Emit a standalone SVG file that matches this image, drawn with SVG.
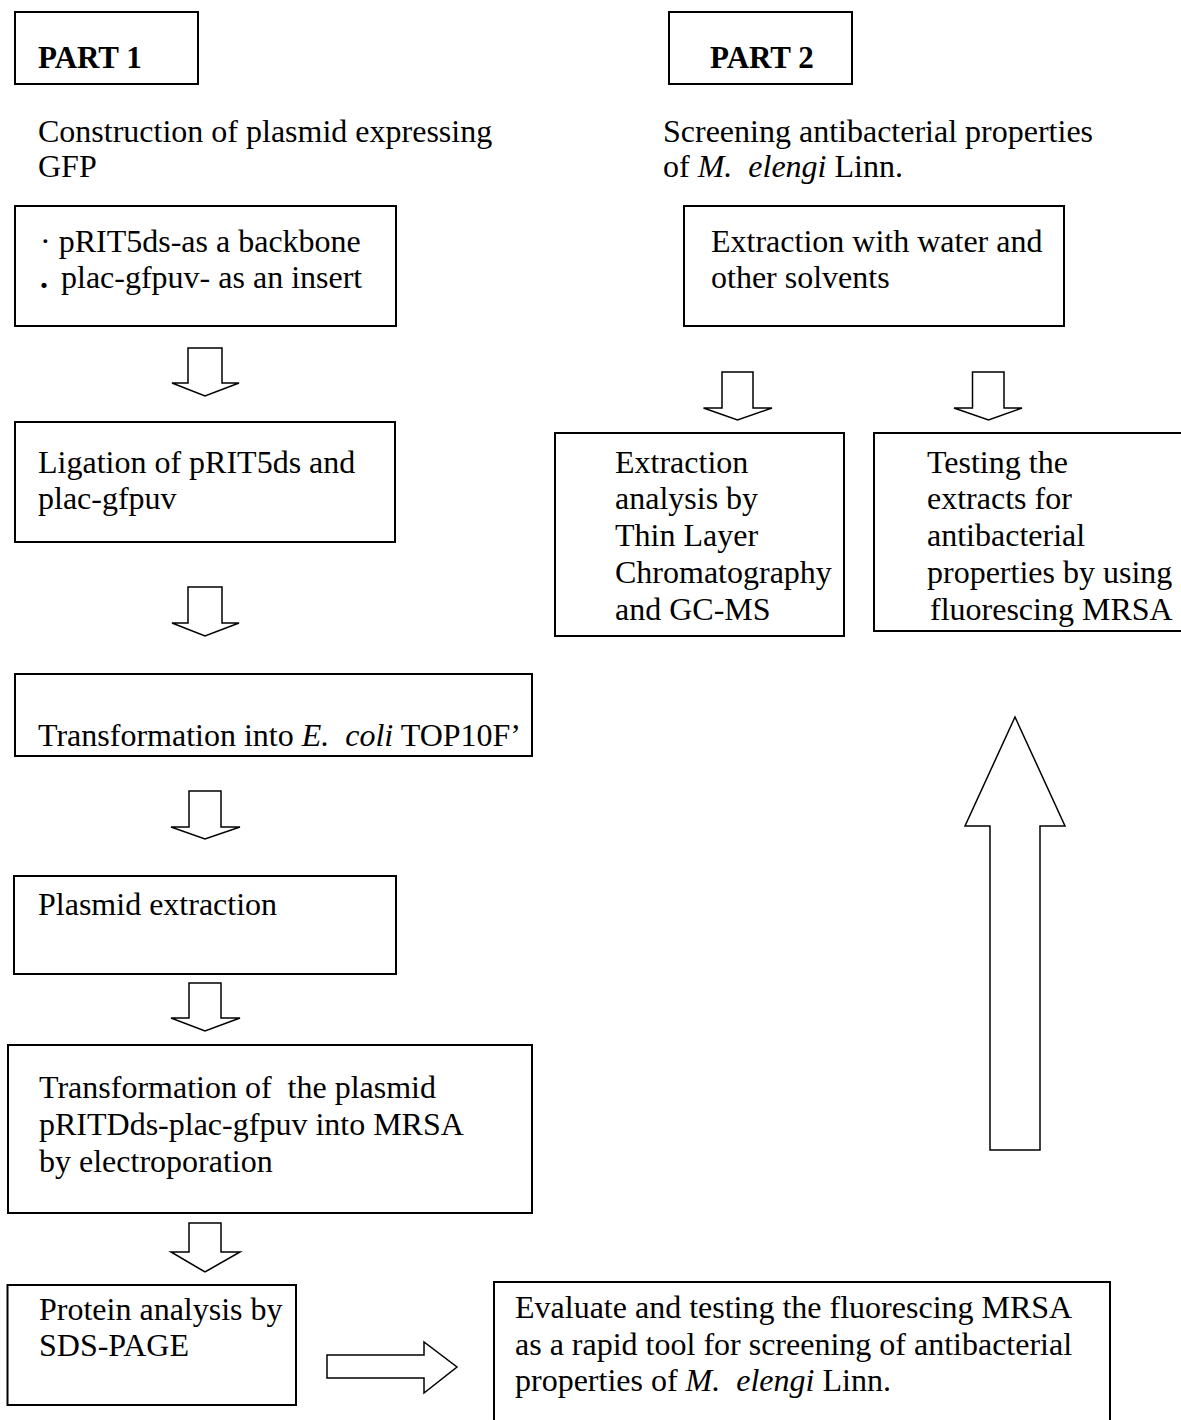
<svg xmlns="http://www.w3.org/2000/svg" width="1181" height="1420" viewBox="0 0 1181 1420">
<style>
  text { font-family: "Liberation Serif", "Times New Roman", serif; font-size: 32px; fill: #000; white-space: pre; }
  .b { font-weight: bold; font-size: 31px; }
  .i { font-style: italic; }
  .box { fill: #fff; stroke: #000; stroke-width: 2; }
  .arr { fill: #fff; stroke: #000; stroke-width: 1.5; stroke-linejoin: miter; }
</style>
<rect width="1181" height="1420" fill="#fff"/>

<g id="part1">
  <rect class="box" x="15" y="12" width="183" height="72"/>
  <text class="b" x="38" y="68">PART 1</text>
</g>
<g id="part2">
  <rect class="box" x="669" y="12" width="183" height="72"/>
  <text class="b" x="710" y="68">PART 2</text>
</g>
<g id="title1">
  <text x="38" y="142">Construction of plasmid expressing</text>
  <text x="38" y="177">GFP</text>
</g>
<g id="title2">
  <text x="663" y="142">Screening antibacterial properties</text>
  <text x="663" y="177">of <tspan class="i">M.  elengi</tspan> Linn.</text>
</g>

<g id="backbone">
  <rect class="box" x="15" y="206" width="381" height="120"/>
  <text x="40" y="252">· pRIT5ds-as a backbone</text>
  <text y="288"><tspan x="40" font-weight="bold">.</tspan><tspan x="53"> plac-gfpuv- as an insert</tspan></text>
</g>
<g id="ligation">
  <rect class="box" x="15" y="422" width="380" height="120"/>
  <text x="38" y="473">Ligation of pRIT5ds and</text>
  <text x="38" y="509">plac-gfpuv</text>
</g>
<g id="transformation-ecoli">
  <rect class="box" x="15" y="674" width="517" height="82"/>
  <text x="38" y="746">Transformation into <tspan class="i">E.  coli</tspan> TOP10F’</text>
</g>
<g id="plasmid-extraction">
  <rect class="box" x="14" y="876" width="382" height="98"/>
  <text x="38" y="915">Plasmid extraction</text>
</g>
<g id="transformation-mrsa">
  <rect class="box" x="8" y="1045" width="524" height="168"/>
  <text x="39" y="1098">Transformation of  the plasmid</text>
  <text x="39" y="1135">pRITDds-plac-gfpuv into MRSA</text>
  <text x="39" y="1172">by electroporation</text>
</g>
<g id="protein">
  <rect class="box" x="7.5" y="1285" width="288.5" height="120"/>
  <text x="39" y="1320">Protein analysis by</text>
  <text x="39" y="1356">SDS-PAGE</text>
</g>
<g id="evaluate">
  <rect class="box" x="494" y="1282" width="616" height="160"/>
  <text x="515" y="1318">Evaluate and testing the fluorescing MRSA</text>
  <text x="515" y="1355">as a rapid tool for screening of antibacterial</text>
  <text x="515" y="1391">properties of <tspan class="i">M.  elengi</tspan> Linn.</text>
</g>
<g id="extraction">
  <rect class="box" x="684" y="206" width="380" height="120"/>
  <text x="711" y="252">Extraction with water and</text>
  <text x="711" y="288">other solvents</text>
</g>
<g id="tlc">
  <rect class="box" x="555" y="433" width="289" height="203"/>
  <text x="615" y="473">Extraction</text>
  <text x="615" y="509">analysis by</text>
  <text x="615" y="546">Thin Layer</text>
  <text x="615" y="583">Chromatography</text>
  <text x="615" y="620">and GC-MS</text>
</g>
<g id="testing">
  <rect class="box" x="874" y="433" width="330" height="198"/>
  <text x="927" y="473">Testing the</text>
  <text x="927" y="509">extracts for</text>
  <text x="927" y="546">antibacterial</text>
  <text x="927" y="583">properties by using</text>
  <text x="930" y="620">fluorescing MRSA</text>
</g>

<g id="connectors">
  <path class="arr" d="M188,348 H222 V383 H239 L205,396 L172,383 H188 Z"/>
  <path class="arr" d="M188,587 H222 V623 H239 L205,636 L172,623 H188 Z"/>
  <path class="arr" d="M189,791 H221 V827 H240 L205,839 L171,827 H189 Z"/>
  <path class="arr" d="M189,983 H221 V1018 H240 L205,1031 L171,1018 H189 Z"/>
  <path class="arr" d="M189,1223 H221 V1252 H240 L205,1272 L171,1252 H189 Z"/>
  <path class="arr" d="M722,372 H753 V408 H772 L737.5,420 L703.5,408 H722 Z"/>
  <path class="arr" d="M972.5,372 H1004 V408 H1022 L988.5,420 L954,408 H972.5 Z"/>
  <path class="arr" d="M990,1150 V826 H965 L1015,717 L1065,826 H1040 V1150 Z"/>
  <path class="arr" d="M327,1355 H424 V1342 L457,1367 L424,1393 V1378 H327 Z"/>
</g>
</svg>
